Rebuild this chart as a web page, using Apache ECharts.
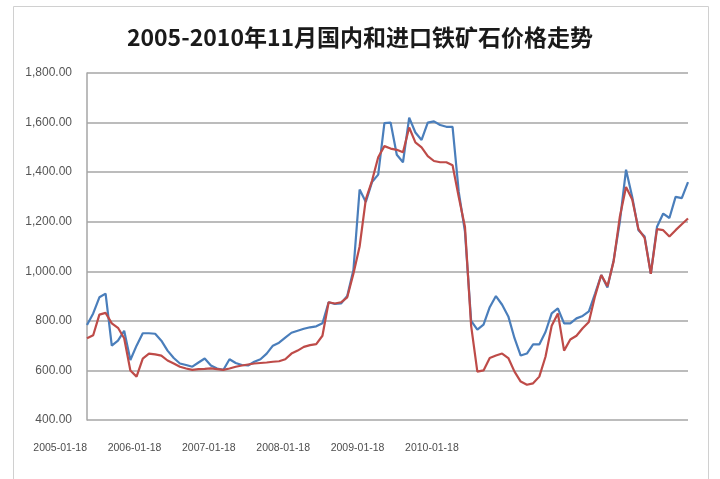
<!DOCTYPE html>
<html><head><meta charset="utf-8">
<script src="https://cdn.jsdelivr.net/npm/echarts@6/dist/echarts.min.js"></script>
<style>html,body{margin:0;padding:0;background:#fff}#c{width:720px;height:479px}</style>
</head><body><div id="c"></div>
<script>
const titleText = '2005-2010年11月国内和进口铁矿石价格走势';
const xTickLabels = ['2005-01-18','2006-01-18','2007-01-18','2008-01-18','2009-01-18','2010-01-18'];
const pointsPerLabel = 12;
const yTicks = [400, 600, 800, 1000, 1200, 1400, 1600, 1800];
const blueSeries = [783,830,895,910,700,720,760,642,700,750,750,748,720,680,650,628,622,615,632,648,620,608,602,645,630,622,620,635,645,668,700,712,732,752,760,768,774,778,790,875,868,870,900,1005,1330,1280,1360,1390,1598,1600,1470,1440,1620,1560,1530,1600,1605,1590,1583,1583,1320,1160,800,765,785,855,900,865,818,730,660,668,705,705,755,830,850,790,790,810,820,838,910,985,935,1045,1200,1410,1300,1166,1140,990,1180,1233,1215,1300,1295,1360];
const redSeries = [730,742,825,832,790,772,730,600,575,648,668,665,660,640,628,615,608,602,605,606,608,605,602,608,615,620,624,628,630,632,635,637,645,668,680,695,702,706,740,875,870,875,895,990,1100,1290,1365,1460,1505,1495,1490,1480,1580,1520,1500,1465,1445,1440,1440,1428,1300,1180,780,595,600,650,660,668,650,595,555,542,548,575,655,780,830,680,725,740,770,795,900,985,940,1040,1220,1340,1290,1170,1135,990,1170,1166,1140,1166,1190,1213];

const categories = blueSeries.map((_, i) =>
  (i % pointsPerLabel === 0 && i / pointsPerLabel < xTickLabels.length) ? xTickLabels[i / pointsPerLabel] : '');

const chart = echarts.init(document.getElementById('c'), null, {renderer: 'canvas'});
chart.setOption({
  backgroundColor: '#ffffff',
  animation: false,
  title: {
    text: titleText, left: 'center', top: 21,
    textStyle: {fontFamily: '"Noto Sans CJK SC"', fontSize: 23, fontWeight: 'bold', color: '#1a1a1a'}
  },
  graphic: [{
    type: 'rect', left: 11, top: 4, shape: {width: 695, height: 480},
    style: {fill: 'none', stroke: '#d0d0d0', lineWidth: 1}, silent: true
  }],
  grid: {left: 87, right: 32, top: 73, bottom: 59, containLabel: false},
  xAxis: {
    type: 'category', data: categories, boundaryGap: false,
    axisLine: {show: false},
    axisTick: {show: false},
    axisLabel: {
      interval: 0, align: 'right', margin: 23,
      fontFamily: '"Liberation Sans"', fontSize: 10.5, color: '#4d4d4d'
    },
    splitLine: {show: false}
  },
  yAxis: {
    type: 'value', min: yTicks[0], max: yTicks[yTicks.length - 1], interval: 200,
    axisLine: {show: true, lineStyle: {color: '#a6a6a6', width: 1.5}},
    axisTick: {show: false},
    axisLabel: {
      margin: 15, fontFamily: '"Liberation Sans"', fontSize: 12, color: '#555',
      formatter: v => v.toLocaleString('en-US', {minimumFractionDigits: 2, maximumFractionDigits: 2})
    },
    splitLine: {show: true, lineStyle: {color: '#a6a6a6', width: 1.5}}
  },
  series: [
    {name: '进口', type: 'line', data: blueSeries, showSymbol: false, symbol: 'none',
     lineStyle: {color: '#4A7EBB', width: 2.2}, itemStyle: {color: '#4A7EBB'}},
    {name: '国内', type: 'line', data: redSeries, showSymbol: false, symbol: 'none',
     lineStyle: {color: '#BE4B48', width: 2.2}, itemStyle: {color: '#BE4B48'}}
  ]
});
</script>
</body></html>
